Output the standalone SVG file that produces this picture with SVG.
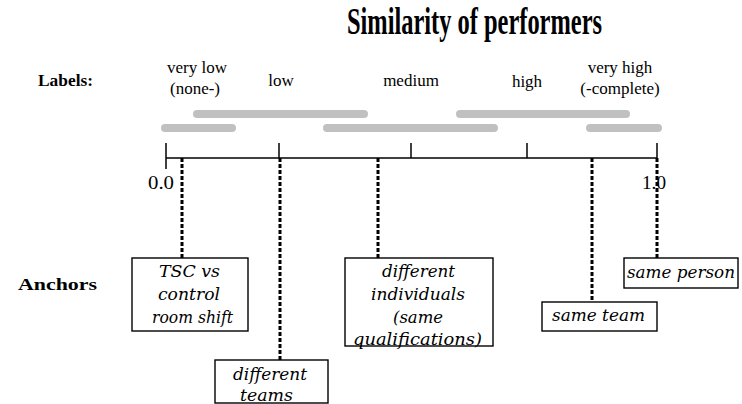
<svg xmlns="http://www.w3.org/2000/svg" width="742" height="404" viewBox="0 0 742 404">
<style>
.t{font-family:"Liberation Serif","Times New Roman",serif;fill:#000}
.lab{font-size:17px}
.hd{font-size:17px;font-weight:bold}
.bx{font-family:"DejaVu Serif","Liberation Serif",serif;font-size:16px;font-style:italic;fill:#000}
.box{fill:#fff;stroke:#000;stroke-width:1.4}
.bar{stroke:#c0c0c0;stroke-width:8;stroke-linecap:round}
.dash{stroke:#000;stroke-width:3;stroke-dasharray:4 2;fill:none}
.ax{stroke:#000;stroke-width:1.5}
</style>
<rect width="742" height="404" fill="#fff"/>
<text class="t" x="347" y="34" font-size="37" font-weight="bold" textLength="255" lengthAdjust="spacingAndGlyphs">Similarity of performers</text>
<g id="labels">
<text class="t hd" x="38" y="86" textLength="55" lengthAdjust="spacingAndGlyphs">Labels:</text>
<text class="t lab" x="197" y="73" text-anchor="middle">very low</text>
<text class="t lab" x="195" y="94" text-anchor="middle">(none-)</text>
<text class="t lab" x="281" y="86" text-anchor="middle">low</text>
<text class="t lab" x="411" y="86" text-anchor="middle">medium</text>
<text class="t lab" x="527" y="87" text-anchor="middle">high</text>
<text class="t lab" x="620" y="73" text-anchor="middle">very high</text>
<text class="t lab" x="620" y="94" text-anchor="middle">(-complete)</text>
</g>
<g id="bars">
<line class="bar" x1="197" y1="114" x2="364" y2="114"/>
<line class="bar" x1="460" y1="114" x2="626" y2="114"/>
<line class="bar" x1="165" y1="128" x2="232" y2="128"/>
<line class="bar" x1="327" y1="128" x2="494" y2="128"/>
<line class="bar" x1="590" y1="128" x2="658" y2="128"/>
</g>
<g id="axis">
<line class="ax" x1="166" y1="158" x2="657" y2="158"/>
<line class="ax" x1="166" y1="143" x2="166" y2="169"/>
<line class="ax" x1="279" y1="143" x2="279" y2="158"/>
<line class="ax" x1="411" y1="143" x2="411" y2="158"/>
<line class="ax" x1="527" y1="143" x2="527" y2="158"/>
<line class="ax" x1="657" y1="143" x2="657" y2="158"/>
<text class="t" x="148" y="189" font-size="18" textLength="26" lengthAdjust="spacingAndGlyphs">0.0</text>
<text class="t" x="642" y="189" font-size="18" textLength="24" lengthAdjust="spacingAndGlyphs">1.0</text>
</g>
<g id="connectors">
<line class="dash" x1="182" y1="158" x2="182" y2="258"/>
<line class="dash" x1="280" y1="158" x2="280" y2="360"/>
<line class="dash" x1="378" y1="158" x2="378" y2="258"/>
<line class="dash" x1="592" y1="158" x2="592" y2="302"/>
<line class="dash" x1="657" y1="158" x2="657" y2="258"/>
</g>
<text class="t hd" x="18" y="290" font-size="18" textLength="79" lengthAdjust="spacingAndGlyphs">Anchors</text>
<g id="tsc">
<rect class="box" x="132" y="258" width="116" height="73"/>
<text class="bx" x="159" y="277" textLength="61" lengthAdjust="spacingAndGlyphs">TSC vs</text>
<text class="bx" x="158" y="300" textLength="62" lengthAdjust="spacingAndGlyphs">control</text>
<text class="bx" x="152" y="323" textLength="81" lengthAdjust="spacingAndGlyphs">room shift</text>
</g>
<g id="teams">
<rect class="box" x="215" y="360" width="113" height="43"/>
<text class="bx" x="233" y="380" textLength="74" lengthAdjust="spacingAndGlyphs">different</text>
<text class="bx" x="240" y="401" textLength="53" lengthAdjust="spacingAndGlyphs">teams</text>
</g>
<g id="individuals">
<rect class="box" x="345" y="258" width="148" height="88"/>
<text class="bx" x="382" y="277" textLength="73" lengthAdjust="spacingAndGlyphs">different</text>
<text class="bx" x="371" y="300" textLength="94" lengthAdjust="spacingAndGlyphs">individuals</text>
<text class="bx" x="393" y="323" textLength="50" lengthAdjust="spacingAndGlyphs">(same</text>
<text class="bx" x="353" y="345" textLength="129" lengthAdjust="spacingAndGlyphs">qualifications)</text>
</g>
<g id="sameteam">
<rect class="box" x="542" y="302" width="115" height="29" stroke-width="2.5"/>
<text class="bx" x="552" y="321" textLength="93" lengthAdjust="spacingAndGlyphs">same team</text>
</g>
<g id="sameperson">
<rect class="box" x="624" y="258" width="114" height="30"/>
<text class="bx" x="627" y="278" textLength="108" lengthAdjust="spacingAndGlyphs">same person</text>
</g>
</svg>
